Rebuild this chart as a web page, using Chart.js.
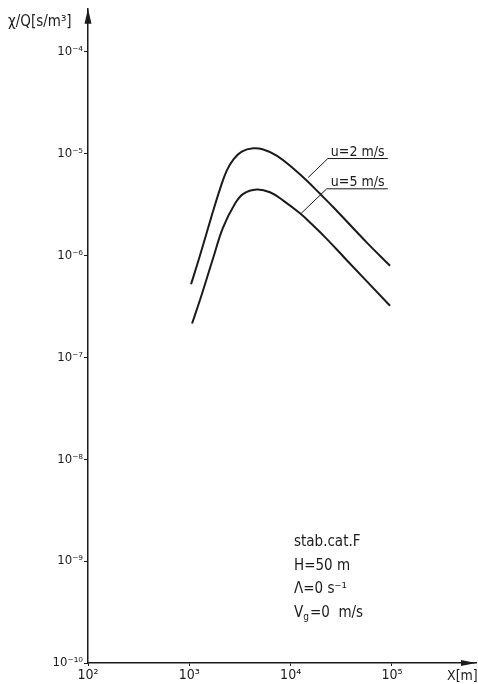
<!DOCTYPE html>
<html>
<head>
<meta charset="utf-8">
<script src="https://cdn.jsdelivr.net/npm/chart.js@4.4.1/dist/chart.umd.min.js"></script>
<style>
  html, body { margin: 0; padding: 0; background: #fff; }
  #wrap { width: 478px; height: 684px; position: relative; }
</style>
</head>
<body>
<div id="wrap"><canvas id="plumeChart"></canvas></div>
<script>
// distance X [m] and chi/Q [s/m3]
const distU2 = [1040, 1276, 1664, 2010, 2340, 2720, 3290, 4280, 5370, 7280, 10620, 14390, 19500, 26400, 56200, 95700];
const chiU2  = [5.2e-7, 1.0e-6, 2.45e-6, 4.49e-6, 6.78e-6, 8.69e-6, 1.04e-5, 1.12e-5, 1.09e-5, 9.5e-6, 7.1e-6, 5.41e-6, 4.01e-6, 2.96e-6, 1.34e-6, 7.9e-7];
const distU5 = [1065, 1334, 1713, 2150, 2820, 3410, 4620, 6250, 8450, 12360, 16700, 22700, 36000, 95700];
const chiU5  = [2.14e-7, 4.2e-7, 9.3e-7, 1.87e-6, 3.2e-6, 4.01e-6, 4.42e-6, 4.15e-6, 3.44e-6, 2.58e-6, 1.96e-6, 1.45e-6, 8.9e-7, 3.2e-7];

const xTickValues = [1e2, 1e3, 1e4, 1e5];
const xTickLabels = ['10²', '10³', '10⁴', '10⁵'];
const yTickValues = [1e-10, 1e-9, 1e-8, 1e-7, 1e-6, 1e-5, 1e-4];
const yTickLabels = ['10⁻¹⁰', '10⁻⁹', '10⁻⁸', '10⁻⁷', '10⁻⁶', '10⁻⁵', '10⁻⁴'];

const seriesNames = ['u=2 m/s', 'u=5 m/s'];
const infoLines = ['stab.cat.F', 'H=50 m', 'Λ=0 s⁻¹'];

const INK = '#1b1b1b';
const FONT = '"DejaVu Sans Condensed", "Liberation Sans Narrow", "DejaVu Sans", sans-serif';

function toPoints(xs, ys) {
    return xs.map((x, i) => ({ x: x, y: ys[i] }));
}

// arrows, axis titles and the hand lettering of the original sheet
const sheetPlugin = {
    id: 'sheet',
    afterDraw(chart) {
        const ctx = chart.ctx;
        const xs = chart.scales.x, ys = chart.scales.y;
        const area = chart.chartArea;
        const px = v => xs.getPixelForValue(v);
        const py = v => ys.getPixelForValue(v);
        ctx.save();
        ctx.fillStyle = INK;
        ctx.strokeStyle = INK;

        // arrow heads
        ctx.beginPath();
        ctx.moveTo(area.left, area.top);
        ctx.lineTo(area.left - 3.5, area.top + 15);
        ctx.lineTo(area.left + 3.5, area.top + 15);
        ctx.closePath();
        ctx.fill();
        ctx.beginPath();
        ctx.moveTo(area.right, area.bottom);
        ctx.lineTo(area.right - 15, area.bottom - 3);
        ctx.lineTo(area.right - 15, area.bottom + 3);
        ctx.closePath();
        ctx.fill();

        // axis titles
        ctx.font = '15px ' + FONT;
        ctx.textBaseline = 'alphabetic';
        ctx.textAlign = 'left';
        ctx.fillText('χ/Q[s/m³]', 8, 26);
        ctx.font = '14px ' + FONT;
        ctx.fillText('X[m]', 447, 680);

        // series labels with underline and leader
        const labels = [
            { text: seriesNames[0], x0: 2.33e4, x1: 9.1e4, y: 8.9e-6, tx: 1.49e4, ty: 5.8e-6 },
            { text: seriesNames[1], x0: 2.27e4, x1: 9.1e4, y: 4.49e-6, tx: 1.256e4, ty: 2.55e-6 }
        ];
        ctx.lineWidth = 1;
        labels.forEach(l => {
            const yy = py(l.y);
            ctx.beginPath();
            ctx.moveTo(px(l.x1), yy);
            ctx.lineTo(px(l.x0), yy);
            ctx.lineTo(px(l.tx), py(l.ty));
            ctx.stroke();
            ctx.font = '14px ' + FONT;
            ctx.fillText(l.text, px(2.33e4) + 3, yy - 3);
        });

        // parameter block
        ctx.font = '15px ' + FONT;
        const left = 294;
        infoLines.forEach((t, i) => ctx.fillText(t, left, 546 + i * 23.5));
        const vy = 546 + 3 * 23.5;
        ctx.fillText('V', left, vy);
        const vw = ctx.measureText('V').width;
        ctx.font = '10px ' + FONT;
        ctx.fillText('g', left + vw, vy + 3);
        const gw = ctx.measureText('g').width;
        ctx.font = '15px ' + FONT;
        ctx.fillText('=0  m/s', left + vw + gw + 1, vy);
        ctx.restore();
    }
};

const chart = new Chart(document.getElementById('plumeChart'), {
    type: 'line',
    data: {
        datasets: [
            { label: seriesNames[0], data: toPoints(distU2, chiU2) },
            { label: seriesNames[1], data: toPoints(distU5, chiU5) }
        ].map(d => Object.assign(d, {
            borderColor: INK,
            borderWidth: 2,
            pointRadius: 0,
            fill: false,
            tension: 0.4
        }))
    },
    options: {
        responsive: true,
        maintainAspectRatio: false,
        animation: false,
        layout: { padding: { left: 0, top: 8, right: 2, bottom: 0 } },
        plugins: { legend: { display: false }, tooltip: { enabled: false } },
        scales: {
            x: {
                type: 'logarithmic',
                min: 100,
                max: 6.75e5,
                afterBuildTicks: s => { s.ticks = xTickValues.map(v => ({ value: v })); },
                afterFit: s => { s.height = 21; },
                ticks: {
                    autoSkip: false,
                    maxRotation: 0,
                    padding: 1,
                    color: INK,
                    font: { family: FONT, size: 14 },
                    callback: v => xTickLabels[xTickValues.indexOf(v)] || ''
                },
                grid: { display: true, drawOnChartArea: false, tickLength: 3, color: INK },
                border: { color: INK, width: 1.5 }
            },
            y: {
                type: 'logarithmic',
                min: 1e-10,
                max: 2.62e-4,
                afterBuildTicks: s => { s.ticks = yTickValues.map(v => ({ value: v })); },
                afterFit: s => { s.width = 88; },
                ticks: {
                    autoSkip: false,
                    padding: 1,
                    color: INK,
                    font: { family: FONT, size: 13 },
                    callback: v => {
                        const i = yTickValues.findIndex(t => Math.abs(Math.log10(t) - Math.log10(v)) < 1e-6);
                        return i >= 0 ? yTickLabels[i] : '';
                    }
                },
                grid: { display: true, drawOnChartArea: false, tickLength: 4, color: INK },
                border: { color: INK, width: 1.5 }
            }
        }
    },
    plugins: [sheetPlugin]
});
</script>
</body>
</html>
